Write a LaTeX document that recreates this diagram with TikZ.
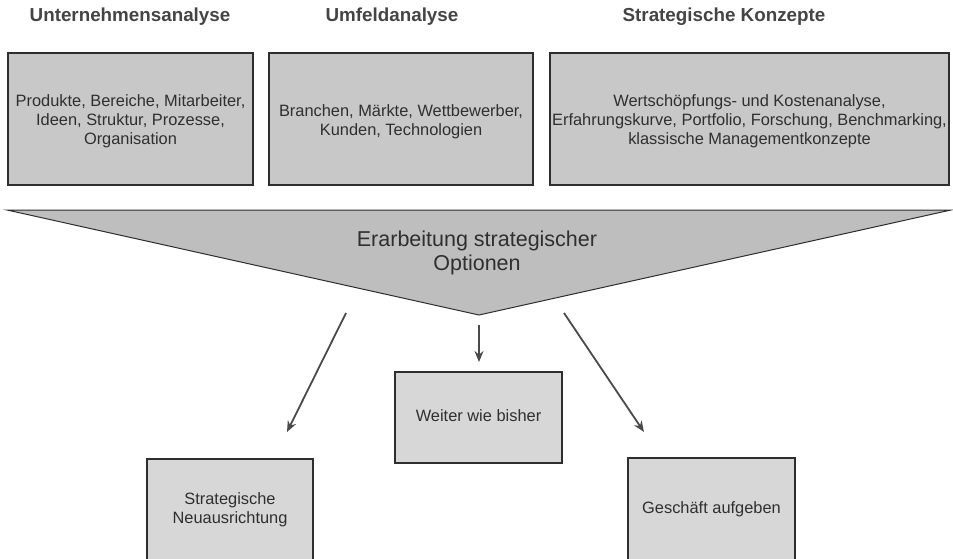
\documentclass[tikz,border=0pt]{standalone}
\usepackage{fontspec}
\setmainfont{Liberation Sans}
\usetikzlibrary{arrows.meta}
\definecolor{topfill}{HTML}{C8C8C8}
\definecolor{botfill}{HTML}{D7D7D7}
\definecolor{trifill}{HTML}{BEBEBE}
\definecolor{edge}{HTML}{2E2E2E}
\definecolor{arr}{HTML}{4A4A4A}
\definecolor{txt}{HTML}{2F2F2F}
\definecolor{ttl}{HTML}{444444}
\begin{document}
\begin{tikzpicture}[x=1pt,y=-1pt,
  title/.style={font=\fontsize{18.8}{22}\selectfont\bfseries,text=ttl,inner sep=0pt},
  boxtxt/.style={align=center,font=\fontsize{16.4}{19}\selectfont,text=txt},
  topbox/.style={draw=edge,line width=1.8pt,fill=topfill},
  botbox/.style={draw=edge,line width=1.8pt,fill=botfill},
  conn/.style={draw=arr,line width=1.8pt,-{Stealth[length=11pt,width=9pt]}}]
\useasboundingbox (0,0) rectangle (953,559);
% titles
\node[title] (t1) at (130,17) {Unternehmensanalyse};
\node[title] (t2) at (392,17) {Umfeldanalyse};
\node[title] (t3) at (724,17) {Strategische Konzepte};
% top boxes
\draw[topbox] (8,53) rectangle (253,185);
\node[boxtxt] (b1) at (130.5,121) {Produkte, Bereiche, Mitarbeiter,\\Ideen, Struktur, Prozesse,\\Organisation};
\draw[topbox] (269,53) rectangle (533,185);
\node[boxtxt] (b2) at (401,122) {Branchen, Märkte, Wettbewerber,\\Kunden, Technologien};
\draw[topbox] (550,53) rectangle (949,185);
\node[boxtxt] (b3) at (749.5,121) {Wertschöpfungs- und Kostenanalyse,\\Erfahrungskurve, Portfolio, Forschung, Benchmarking,\\klassische Managementkonzepte};
% triangle
\draw[draw=edge,line width=1pt,fill=trifill,line join=miter] (7,210) -- (951,210) -- (479,315) -- cycle;
\node[align=center,font=\fontsize{21.5}{24}\selectfont,text=txt] (tri) at (477,253) {Erarbeitung strategischer\\Optionen};
% bottom boxes
\draw[botbox] (147,459) rectangle (313,560);
\node[boxtxt] (n1) at (230,510) {Strategische\\Neuausrichtung};
\draw[botbox] (395,372) rectangle (562,463);
\node[boxtxt] (n2) at (478.5,416) {Weiter wie bisher};
\draw[botbox] (628,458) rectangle (795,560);
\node[boxtxt] (n3) at (711.5,509) {Geschäft aufgeben};
% arrows
\coordinate (a1s) at (346,313);
\coordinate (a1e) at (287,432);
\coordinate (a2s) at (479,325);
\coordinate (a2e) at (479,362);
\coordinate (a3s) at (564,313);
\coordinate (a3e) at (644,432);
\draw[conn] (a1s) -- (a1e);
\draw[conn] (a2s) -- (a2e);
\draw[conn] (a3s) -- (a3e);
\end{tikzpicture}
\end{document}
